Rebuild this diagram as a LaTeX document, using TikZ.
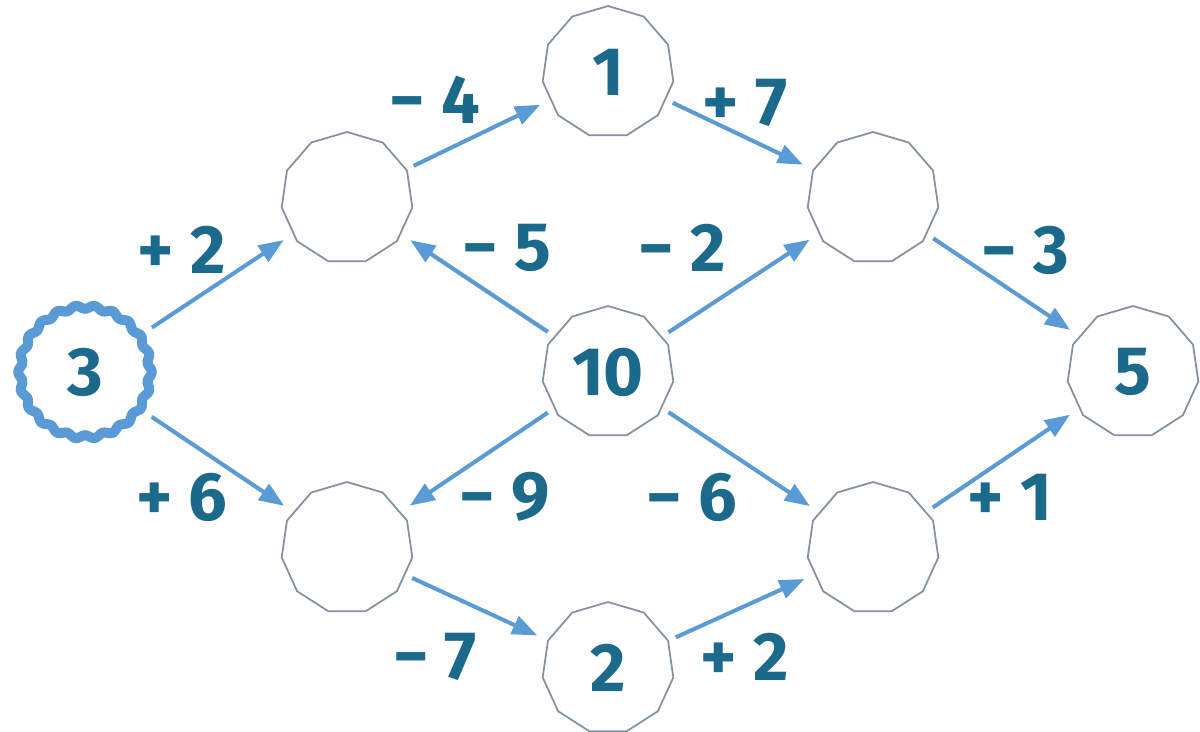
\documentclass[tikz,border=0pt]{standalone}
\usepackage{fontspec}
\setmainfont{Fira Sans}
\usetikzlibrary{arrows.meta,shapes.geometric}
\definecolor{arr}{HTML}{5B9BD5}
\definecolor{txt}{HTML}{1B6A8C}
\definecolor{edge}{HTML}{8391A0}
\tikzset{
  numnode/.style={regular polygon, regular polygon sides=11, minimum size=2.64cm, inner sep=0pt,
    draw=edge, line width=1pt, text=txt, font=\fontsize{39}{40}\selectfont\bfseries},
  startnode/.style={circle, minimum size=2.9cm, inner sep=0pt, text=txt, font=\fontsize{39}{40}\selectfont\bfseries},
  lbl/.style={text=txt, font=\fontsize{39}{40}\selectfont\bfseries, inner sep=0pt},
  conn/.style={draw=arr, line width=2.3pt, -{Triangle[length=0.5cm, width=0.38cm]}, shorten <=0.15cm, shorten >=0.22cm},
  ring/.style={draw=arr, line width=0.2cm}
}
\begin{document}
\begin{tikzpicture}[x=0.02cm, y=-0.02cm]
\useasboundingbox (0,0) rectangle (1200,731);
\node[startnode] (n3) at (85,372) {3};
\draw[ring, shift={(n3.center)}] plot[domain=0:360, samples=361, smooth] (\x:{1.3cm+0.035cm*cos(22*\x)}) -- cycle;
\node[numnode] (a) at (347,198) {};
\node[numnode] (n1) at (608,72) {1};
\node[numnode] (b) at (873,198) {};
\node[numnode] (n10) at (608,372) {10};
\node[numnode] (n5) at (1133,372) {5};
\node[numnode] (c) at (347,548) {};
\node[numnode] (d) at (873,548) {};
\node[numnode] (n2) at (608,668) {2};

\draw[conn] (n3) -- (a);
\draw[conn] (a) -- (n1);
\draw[conn] (n1) -- (b);
\draw[conn] (n10) -- (a);
\draw[conn] (n10) -- (b);
\draw[conn] (b) -- (n5);
\draw[conn] (n3) -- (c);
\draw[conn] (n10) -- (c);
\draw[conn] (n10) -- (d);
\draw[conn] (d) -- (n5);
\draw[conn] (c) -- (n2);
\draw[conn] (n2) -- (d);

\node[lbl] (l1) at (182,250) {+ 2};
\node[lbl] (l2) at (435,100) {− 4};
\node[lbl] (l3) at (745,103) {+ 7};
\node[lbl] (l4) at (507,248) {− 5};
\node[lbl] (l5) at (682,248) {− 2};
\node[lbl] (l6) at (1025,250) {− 3};
\node[lbl] (l7) at (182,497) {+ 6};
\node[lbl] (l8) at (505,497) {− 9};
\node[lbl] (l9) at (692,497) {− 6};
\node[lbl] (l10) at (1010,497) {+ 1};
\node[lbl] (l11) at (435,657) {− 7};
\node[lbl] (l12) at (745,657) {+ 2};
\end{tikzpicture}
\end{document}
